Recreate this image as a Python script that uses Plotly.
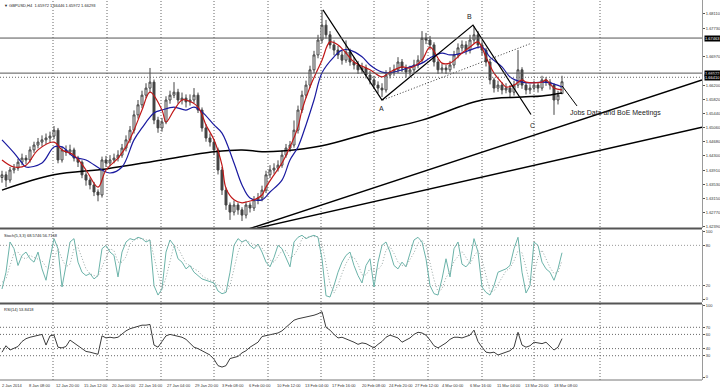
import plotly.graph_objects as go

# ---------------- data ----------------
bars = list(range(141))
opens = [1.6372,1.6379,1.6365,1.6392,1.6397,1.6413,1.6424,1.6419,1.6446,1.6459,1.6467,1.6473,1.6478,1.6483,1.6499,1.6419,1.6446,1.6440,1.6446,1.6424,
         1.6413,1.6379,1.6365,1.6352,1.6333,1.6325,1.6419,1.6411,1.6419,1.6424,1.6432,1.6451,1.6473,1.6499,1.6540,1.6567,1.6593,1.6612,1.6628,1.6526,
         1.6505,1.6521,1.6580,1.6593,1.6601,1.6580,1.6585,1.6575,1.6580,1.6593,1.6553,1.6505,1.6478,1.6467,1.6446,1.6392,1.6338,1.6298,1.6279,1.6298,
         1.6285,1.6271,1.6298,1.6290,1.6312,1.6317,1.6338,1.6379,1.6392,1.6397,1.6405,1.6432,1.6451,1.6459,1.6499,1.6553,1.6593,1.6620,1.6661,1.6701,
         1.6741,1.6781,1.6755,1.6728,1.6714,1.6701,1.6687,1.6709,1.6682,1.6674,1.6661,1.6666,1.6647,1.6634,1.6620,1.6612,1.6607,1.6647,1.6655,1.6661,
         1.6682,1.6666,1.6655,1.6661,1.6674,1.6687,1.6746,1.6741,1.6728,1.6682,1.6661,1.6666,1.6661,1.6674,1.6701,1.6720,1.6728,1.6714,1.6741,1.6755,
         1.6728,1.6714,1.6682,1.6634,1.6612,1.6620,1.6607,1.6612,1.6601,1.6620,1.6661,1.6620,1.6607,1.6612,1.6620,1.6612,1.6634,1.6628,1.6620,1.6580,
         1.6597]
closes = [1.6379,1.6365,1.6392,1.6397,1.6413,1.6424,1.6419,1.6446,1.6459,1.6467,1.6473,1.6478,1.6483,1.6499,1.6419,1.6446,1.6440,1.6446,1.6424,1.6413,
          1.6379,1.6365,1.6352,1.6333,1.6325,1.6419,1.6411,1.6419,1.6424,1.6432,1.6451,1.6473,1.6499,1.6540,1.6567,1.6593,1.6612,1.6628,1.6526,1.6505,
          1.6521,1.6580,1.6593,1.6601,1.6580,1.6585,1.6575,1.6580,1.6593,1.6553,1.6505,1.6478,1.6467,1.6446,1.6392,1.6338,1.6298,1.6279,1.6298,1.6285,
          1.6271,1.6298,1.6290,1.6312,1.6317,1.6338,1.6379,1.6392,1.6397,1.6405,1.6432,1.6451,1.6459,1.6499,1.6553,1.6593,1.6620,1.6661,1.6701,1.6741,
          1.6781,1.6755,1.6728,1.6714,1.6701,1.6687,1.6709,1.6682,1.6674,1.6661,1.6666,1.6647,1.6634,1.6620,1.6612,1.6607,1.6647,1.6655,1.6661,1.6682,
          1.6666,1.6655,1.6661,1.6674,1.6687,1.6746,1.6741,1.6728,1.6682,1.6661,1.6666,1.6661,1.6674,1.6701,1.6720,1.6728,1.6714,1.6741,1.6755,1.6728,
          1.6714,1.6682,1.6634,1.6612,1.6620,1.6607,1.6612,1.6601,1.6620,1.6661,1.6620,1.6607,1.6612,1.6620,1.6612,1.6634,1.6628,1.6620,1.6580,1.6593,
          1.6629]
highs = [1.6390,1.6388,1.6400,1.6408,1.6422,1.6436,1.6432,1.6455,1.6468,1.6478,1.6485,1.6490,1.6495,1.6510,1.6505,1.6455,1.6458,1.6460,1.6452,1.6430,
         1.6418,1.6386,1.6372,1.6360,1.6340,1.6428,1.6430,1.6432,1.6436,1.6445,1.6462,1.6485,1.6510,1.6552,1.6580,1.6605,1.6625,1.6666,1.6635,1.6535,
         1.6532,1.6590,1.6605,1.6628,1.6610,1.6600,1.6595,1.6595,1.6612,1.6600,1.6560,1.6515,1.6490,1.6475,1.6452,1.6400,1.6345,1.6305,1.6310,1.6305,
         1.6292,1.6308,1.6305,1.6322,1.6330,1.6350,1.6390,1.6405,1.6410,1.6418,1.6445,1.6462,1.6470,1.6525,1.6565,1.6605,1.6632,1.6672,1.6712,1.6755,
         1.6822,1.6795,1.6765,1.6740,1.6725,1.6712,1.6740,1.6718,1.6695,1.6685,1.6680,1.6675,1.6658,1.6645,1.6630,1.6625,1.6660,1.6668,1.6675,1.6695,
         1.6690,1.6675,1.6672,1.6688,1.6700,1.6765,1.6760,1.6752,1.6735,1.6690,1.6678,1.6675,1.6685,1.6712,1.6732,1.6740,1.6738,1.6755,1.6778,1.6765,
         1.6738,1.6720,1.6690,1.6640,1.6632,1.6628,1.6625,1.6620,1.6632,1.6714,1.6668,1.6628,1.6622,1.6632,1.6628,1.6645,1.6642,1.6636,1.6625,1.6605,
         1.6645]
lows = [1.6358,1.6346,1.6358,1.6383,1.6390,1.6405,1.6408,1.6412,1.6438,1.6450,1.6455,1.6462,1.6466,1.6475,1.6410,1.6412,1.6430,1.6432,1.6415,1.6400,
        1.6370,1.6350,1.6340,1.6322,1.6308,1.6318,1.6400,1.6402,1.6410,1.6415,1.6425,1.6442,1.6465,1.6490,1.6530,1.6558,1.6585,1.6600,1.6515,1.6492,
        1.6495,1.6515,1.6570,1.6585,1.6570,1.6568,1.6560,1.6565,1.6572,1.6545,1.6495,1.6468,1.6455,1.6432,1.6380,1.6325,1.6285,1.6258,1.6270,1.6272,
        1.6255,1.6262,1.6278,1.6282,1.6300,1.6308,1.6330,1.6370,1.6382,1.6388,1.6398,1.6425,1.6440,1.6452,1.6490,1.6545,1.6585,1.6612,1.6652,1.6692,
        1.6732,1.6745,1.6718,1.6700,1.6690,1.6675,1.6680,1.6672,1.6662,1.6650,1.6652,1.6638,1.6622,1.6610,1.6598,1.6588,1.6600,1.6638,1.6645,1.6652,
        1.6655,1.6640,1.6645,1.6652,1.6665,1.6680,1.6730,1.6715,1.6670,1.6650,1.6652,1.6650,1.6655,1.6665,1.6692,1.6710,1.6702,1.6705,1.6732,1.6718,
        1.6700,1.6670,1.6622,1.6600,1.6602,1.6595,1.6598,1.6585,1.6592,1.6612,1.6610,1.6595,1.6596,1.6605,1.6600,1.6605,1.6618,1.6608,1.6540,1.6568,
        1.6597]

ma_red_x = [0,3,6,9,13,15,18,21,24,26,29,31,33,35,37,40,41,43,45,46,49,51,53,55,56,58,60,61,63,65,66,68,70,72,74,75,77,80,82,84,86,88,
            92,95,97,100,102,105,107,110,112,115,117,119,121,123,125,126,128,130,131,133,135,136,138,140]
ma_red_y = [1.6419,1.6400,1.6405,1.6446,1.6467,1.6446,1.6432,1.6392,1.6346,1.6392,1.6424,1.6454,1.6499,1.6553,1.6601,1.6553,1.6521,1.6553,1.6580,1.6580,
            1.6561,1.6513,1.6473,1.6405,1.6343,1.6312,1.6304,1.6306,1.6312,1.6325,1.6346,1.6379,1.6411,1.6454,1.6507,1.6553,1.6615,1.6687,1.6736,1.6728,
            1.6706,1.6682,1.6661,1.6642,1.6655,1.6669,1.6666,1.6687,1.6722,1.6679,1.6679,1.6706,1.6722,1.6736,1.6695,1.6652,1.6626,1.6615,1.6620,1.6634,
            1.6628,1.6626,1.6628,1.6634,1.6612,1.6607]
ma_blue_x = [0,3,5,6,10,13,15,18,21,25,27,30,33,35,38,40,43,46,48,50,53,55,58,60,62,65,67,70,72,74,76,78,80,83,85,87,90,92,95,97,100,102,
             105,107,110,112,115,117,120,122,125,127,130,132,135,137,140]
ma_blue_y = [1.6473,1.6438,1.6411,1.6400,1.6411,1.6454,1.6454,1.6427,1.6419,1.6392,1.6384,1.6400,1.6473,1.6505,1.6545,1.6553,1.6561,1.6553,1.6561,1.6548,
             1.6513,1.6491,1.6411,1.6352,1.6317,1.6312,1.6333,1.6365,1.6419,1.6454,1.6513,1.6580,1.6653,1.6696,1.6714,1.6714,1.6696,1.6674,1.6655,1.6653,
             1.6661,1.6669,1.6679,1.6693,1.6706,1.6701,1.6706,1.6714,1.6722,1.6695,1.6669,1.6642,1.6628,1.6626,1.6628,1.6626,1.6615]
ma_black_x = [0,13,26,40,53,60,65,70,80,93,105,120,130,135,140]
ma_black_y = [1.6338,1.6379,1.6395,1.6419,1.6441,1.6446,1.6441,1.6443,1.6457,1.6495,1.6526,1.6580,1.6588,1.6591,1.6599]

stoch_k = [15,40,85,75,50,65,70,60,55,70,45,28,60,90,75,18,50,85,90,55,40,35,38,30,35,75,80,70,65,33,70,85,90,88,92,90,85,88,20,6,
           15,70,88,80,60,55,45,50,40,35,30,28,26,24,12,8,10,40,80,90,85,88,80,75,82,70,55,48,62,80,75,60,48,85,92,95,90,93,95,92,
           60,5,3,20,40,55,65,70,50,35,24,50,60,18,55,80,85,70,50,45,55,48,70,88,92,85,60,20,8,6,30,60,33,75,85,52,48,55,90,70,
           18,10,6,20,40,42,45,50,75,92,40,9,20,85,80,55,45,40,28,45,69]
stoch_d = [25,30,50,68,70,62,60,65,62,60,57,48,45,60,75,60,48,52,75,77,62,45,38,35,34,48,63,75,72,55,55,63,82,88,90,90,88,88,63,38,
           14,32,58,80,76,65,53,50,45,42,35,31,28,26,21,15,10,20,45,70,85,88,84,81,79,76,69,58,55,63,72,72,61,65,75,90,92,93,93,93,
           82,52,23,9,21,38,53,63,62,52,36,36,45,43,44,51,73,78,68,55,50,49,58,69,83,88,79,55,29,11,15,32,41,56,64,71,62,52,64,72,
           59,33,11,12,22,34,42,46,57,72,69,47,23,38,62,73,60,47,38,40,57]
rsi = [35,44,38,40,43,50,54,56,57,58,60,45,58,59,42,41,43,52,48,44,40,36,35,34,32,58,55,56,55,56,61,65,68,70,72,73,73,74,45,42,
       50,58,60,59,57,56,53,47,42,40,37,34,31,25,16,14,16,26,28,29,34,37,42,46,49,57,58,60,61,62,65,70,76,80,82,83,84,86,87,89,
       92,70,66,60,55,56,54,52,49,46,48,47,44,41,46,50,56,59,57,55,49,52,55,60,63,62,59,52,44,41,44,48,53,56,56,55,57,59,66,50,
       42,35,34,35,31,33,34,37,42,63,45,42,44,49,48,47,49,44,38,42,54]

price_ticks = [1.68490,1.68110,1.67730,1.66970,1.66200,1.65820,1.65440,1.65060,1.64680,1.64300,1.63910,1.63530,1.63150,1.62770,1.62390]
stoch_ticks = [100,80,20,0]
rsi_ticks = [100,70,60,40,30,0]
stoch_levels = [80,20]
rsi_levels = [70,60,40,30]
hline_solid = [1.67463,1.66522]
hline_dotted = [1.66410]
price_boxes = ["1.67463","1.66522","1.66410"]

time_labels = ["2 Jan 2014","8 Jan 08:00","12 Jan 20:00","15 Jan 12:00","20 Jan 00:00","22 Jan 16:00","27 Jan 04:00",
               "29 Jan 20:00","3 Feb 08:00","6 Feb 00:00","10 Feb 12:00","13 Feb 04:00","17 Feb 16:00","20 Feb 08:00",
               "24 Feb 20:00","27 Feb 12:00","4 Mar 00:00","6 Mar 16:00","11 Mar 04:00","13 Mar 20:00","18 Mar 08:00"]
time_label_pos = [-0.5,6.25,13,20,27,33.75,40.75,47.75,54.5,61.25,68.25,75.25,82,89.5,96.25,102.75,109.5,116.5,123.25,130.25,137.5]
grid_pos = [12.75,26.25,39.75,53,66.5,79.75,93,106.5,120,133,149.5]

# drawn objects (bar index, price)
zigzag_x = [80.25,95,117.75,132.25]
zigzag_y = [1.6822,1.6580,1.6781,1.6541]
dotted_tl_x = [95.25,132]
dotted_tl_y = [1.6580,1.6731]
pointer_x = [140,143.75]
pointer_y = [1.6618,1.6564]
trend1_x = [61.75,175]
trend1_y = [1.6234,1.6634]
trend2_x = [63.75,175]
trend2_y = [1.6236,1.6507]

FONT = "Liberation Sans"
DOT = "1px,2px"
fig = go.Figure()

fig.add_trace(go.Candlestick(x=bars, open=opens, high=highs, low=lows, close=closes,
                             increasing=dict(line=dict(color="#444444", width=1), fillcolor="#ffffff"),
                             decreasing=dict(line=dict(color="#444444", width=1), fillcolor="#444444"),
                             whiskerwidth=0, xaxis="x", yaxis="y", showlegend=False))
fig.add_trace(go.Scatter(x=ma_black_x, y=ma_black_y, mode="lines", line=dict(color="#000000", width=1.5, shape="spline"), xaxis="x", yaxis="y"))
fig.add_trace(go.Scatter(x=ma_blue_x, y=ma_blue_y, mode="lines", line=dict(color="#1a1aa0", width=1.2, shape="spline"), xaxis="x", yaxis="y"))
fig.add_trace(go.Scatter(x=ma_red_x, y=ma_red_y, mode="lines", line=dict(color="#c01818", width=1.2, shape="spline"), xaxis="x", yaxis="y"))

for xs, ys, dash, w in [(zigzag_x, zigzag_y, "solid", 1.2), (dotted_tl_x, dotted_tl_y, DOT, 0.8),
                        (pointer_x, pointer_y, "solid", 1), (trend1_x, trend1_y, "solid", 1.5), (trend2_x, trend2_y, "solid", 1.5)]:
    fig.add_trace(go.Scatter(x=xs, y=ys, mode="lines", line=dict(color="#000000", width=w, dash=dash), xaxis="x", yaxis="y"))

fig.add_trace(go.Scatter(x=bars, y=stoch_k, mode="lines", line=dict(color="#6bb3a9", width=1), xaxis="x2", yaxis="y2"))
fig.add_trace(go.Scatter(x=bars, y=stoch_d, mode="lines", line=dict(color="#9aa8a6", width=1, dash=DOT), xaxis="x2", yaxis="y2"))
fig.add_trace(go.Scatter(x=bars, y=rsi, mode="lines", line=dict(color="#3c3c3c", width=1), xaxis="x3", yaxis="y3"))

XR = [-0.5, 175]
xcommon = dict(range=XR, showgrid=False, zeroline=False, showticklabels=False, ticks="", showline=False,
               fixedrange=True, automargin=False)
ycommon = dict(side="right", showgrid=False, zeroline=False, ticks="outside", ticklen=2, tickcolor="#555",
               tickfont=dict(family=FONT, size=4, color="#333"), showline=True, linecolor="#9a9a9a", linewidth=1,
               mirror=False, fixedrange=True, automargin=False)

fig.update_layout(
    template="none",
    width=720, height=387, margin=dict(l=0, r=18, t=0, b=7, pad=0, autoexpand=False),
    paper_bgcolor="#ffffff", plot_bgcolor="#ffffff", showlegend=False, hovermode=False,
    xaxis=dict(**xcommon, domain=[0, 1], anchor="y", rangeslider=dict(visible=False)),
    xaxis2=dict(**xcommon, domain=[0, 1], anchor="y2", matches="x"),
    xaxis3=dict(**xcommon, domain=[0, 1], anchor="y3", matches="x"),
    yaxis=dict(**ycommon, domain=[0.4, 1.0], range=[1.62363, 1.68485], tickvals=price_ticks,
               ticktext=["%.5f" % v for v in price_ticks], anchor="x"),
    yaxis2=dict(**ycommon, domain=[0.205, 0.395], range=[-4.5, 103], tickvals=stoch_ticks,
                ticktext=[str(v) for v in stoch_ticks], anchor="x2"),
    yaxis3=dict(**ycommon, domain=[0.0, 0.2], range=[-4.2, 102.8], tickvals=rsi_ticks,
                ticktext=[str(v) for v in rsi_ticks], anchor="x3"),
)

shapes = []
for gx in grid_pos:
    shapes.append(dict(type="line", xref="x", yref="paper", x0=gx, x1=gx, y0=0, y1=1,
                       line=dict(color="#666666", width=1, dash=DOT), layer="below"))
for hv in hline_solid:
    shapes.append(dict(type="line", xref="paper", yref="y", x0=0, x1=1, y0=hv, y1=hv, line=dict(color="#555555", width=1)))
for hv in hline_dotted:
    shapes.append(dict(type="line", xref="paper", yref="y", x0=0, x1=1, y0=hv, y1=hv, line=dict(color="#666666", width=1, dash=DOT)))
for lv in stoch_levels:
    shapes.append(dict(type="line", xref="paper", yref="y2", x0=0, x1=1, y0=lv, y1=lv, line=dict(color="#999999", width=1, dash=DOT)))
for lv in rsi_levels:
    shapes.append(dict(type="line", xref="paper", yref="y3", x0=0, x1=1, y0=lv, y1=lv, line=dict(color="#666666", width=1, dash=DOT)))
# panel separators
for py in [0.4 - 0.0015, 0.2 + 0.0015]:
    shapes.append(dict(type="line", xref="paper", yref="paper", x0=0, x1=1, y0=py, y1=py, line=dict(color="#555555", width=2)))
shapes.append(dict(type="line", xref="paper", yref="paper", x0=0, x1=1, y0=0, y1=0, line=dict(color="#777777", width=1)))
fig.update_layout(shapes=shapes)

ann = []
small = dict(family=FONT, size=4, color="#222")
ann.append(dict(xref="paper", yref="paper", x=0.003, y=0.998, xanchor="left", yanchor="top", showarrow=False,
                text="\u25bc GBPUSD,H4  1.65972 1.66446 1.65972 1.66293", font=small))
ann.append(dict(xref="paper", yref="paper", x=0.003, y=0.393, xanchor="left", yanchor="top", showarrow=False,
                text="Stoch(5,3,3) 68.5746 56.7168", font=small))
ann.append(dict(xref="paper", yref="paper", x=0.003, y=0.198, xanchor="left", yanchor="top", showarrow=False,
                text="RSI(14) 53.8418", font=small))
for t, p in zip(time_labels, time_label_pos):
    ann.append(dict(xref="x", yref="paper", x=p, y=0, xanchor="left", yanchor="top", yshift=-1, showarrow=False,
                    text=t, font=dict(family=FONT, size=4, color="#333")))
for t in price_boxes:
    ann.append(dict(xref="paper", yref="y", x=1.0, y=float(t), xanchor="left", yanchor="middle", xshift=2, showarrow=False,
                    text=t, bgcolor="#000000", font=dict(family=FONT, size=4, color="#ffffff"), borderpad=0))
lab = dict(family=FONT, size=7, color="#222")
ann.append(dict(xref="x", yref="y", x=94.75, y=1.6557, text="A", showarrow=False, font=lab))
ann.append(dict(xref="x", yref="y", x=116.75, y=1.6805, text="B", showarrow=False, font=lab))
ann.append(dict(xref="x", yref="y", x=132.5, y=1.6511, text="C", showarrow=False, font=lab))
ann.append(dict(xref="x", yref="y", x=141.5, y=1.6546, xanchor="left", text="Jobs Data and BoE Meetings", showarrow=False,
                font=dict(family=FONT, size=7, color="#222")))
fig.update_layout(annotations=ann)

fig.write_html("out.html", config={"displayModeBar": False, "staticPlot": True},
               post_script="document.body.style.margin='0px';document.body.style.overflow='hidden';")
